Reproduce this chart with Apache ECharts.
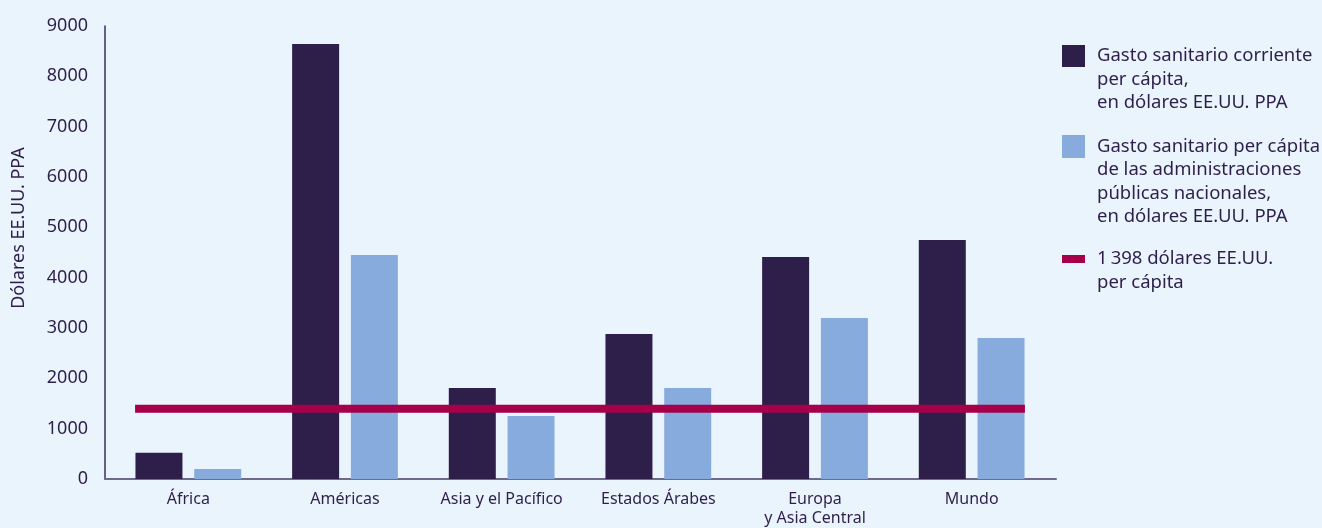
<!DOCTYPE html>
<html>
<head>
<meta charset="utf-8">
<script src="https://cdn.jsdelivr.net/npm/echarts@6/dist/echarts.min.js"></script>
<style>
html,body{margin:0;padding:0;background:#eaf4fd;}
#c{width:1322px;height:528px;}
</style>
</head>
<body>
<div id="c"></div>
<script>
const categories = ['África', 'Américas', 'Asia y el Pacífico', 'Estados Árabes', 'Europa\ny Asia Central', 'Mundo'];
const gastoCorriente = [520, 8640, 1810, 2880, 4410, 4750];
const gastoPublico = [200, 4450, 1250, 1810, 3200, 2800];
const umbral = [1398];
const yMin = 0, yMax = 9000, yStep = 1000;
const seriesNames = [
  'Gasto sanitario corriente\nper cápita,\nen dólares EE.UU. PPA',
  'Gasto sanitario per cápita\nde las administraciones\npúblicas nacionales,\nen dólares EE.UU. PPA',
  '1\u202f398 dólares EE.UU.\nper cápita'
];
const yAxisTitle = 'Dólares EE.UU. PPA';

const TXT = '#2e1f4a';
const DARK = '#2e1f4a';
const LIGHT = '#87abdd';
const RED = '#a6004a';
const FONT = '"Noto Sans", "Open Sans", sans-serif';
const LH = 23.5;

// line extent spans the bar groups (half group width in category units)
const halfGroup = 0.34;
const lineData = [[-halfGroup, umbral[0]], [categories.length - 1 + halfGroup, umbral[0]]];

function legendFor(i, iconCenter, h, w) {
  const n = seriesNames[i].split('\n').length;
  return {
    data: [{name: seriesNames[i], icon: 'rect'}],
    left: 1062,
    top: iconCenter - (2 * n - 1) * LH / 2,
    padding: 0,
    orient: 'vertical',
    itemWidth: w,
    itemHeight: h,
    selectedMode: false,
    formatter: function (name) { return '\n'.repeat(n - 1) + name; },
    textStyle: {
      color: TXT, fontSize: 18.5, fontFamily: FONT, lineHeight: LH,
      padding: [0, 0, 0, 7]
    }
  };
}

const chart = echarts.init(document.getElementById('c'), null, {renderer: 'canvas'});
chart.setOption({
  backgroundColor: '#eaf4fd',
  animation: false,
  textStyle: {fontFamily: FONT},
  grid: [
    {left: 110, right: 272, top: 26, bottom: 49, containLabel: false},
    {left: 105, right: 266, top: 26, bottom: 49, containLabel: false}
  ],
  legend: [
    legendFor(0, 56, 22, 23),
    legendFor(1, 146.5, 23, 23),
    legendFor(2, 259, 8, 23)
  ],
  xAxis: [
    {
      type: 'category', gridIndex: 0, data: categories,
      axisLine: {show: false}, axisTick: {show: false},
      axisLabel: {color: TXT, fontSize: 16, lineHeight: 19, margin: 11, fontFamily: FONT, interval: 0}
    },
    {
      type: 'value', gridIndex: 0, min: -0.5, max: categories.length - 0.5, show: false
    },
    {
      type: 'value', gridIndex: 1, min: 0, max: 1,
      axisLine: {show: true, onZero: false, lineStyle: {color: '#6f6a8c', width: 2}},
      axisTick: {show: false}, axisLabel: {show: false}, splitLine: {show: false}
    }
  ],
  yAxis: [
    {
      type: 'value', gridIndex: 0, min: yMin, max: yMax, interval: yStep, offset: 5,
      axisLine: {show: true, onZero: false, lineStyle: {color: '#3b2f5c', width: 1.5}},
      axisTick: {show: false}, splitLine: {show: false},
      axisLabel: {color: TXT, fontSize: 18, margin: 17, fontFamily: FONT,
        formatter: function (v) { return String(v); }}
    },
    {
      type: 'value', gridIndex: 1, min: 0, max: 1, show: false
    }
  ],
  graphic: [{
    type: 'text', x: 19, y: 228, rotation: Math.PI / 2,
    style: {text: yAxisTitle, fill: TXT, fontSize: 18, fontFamily: FONT, align: 'center', verticalAlign: 'middle'}
  }],
  series: [
    {
      name: seriesNames[0], type: 'bar', xAxisIndex: 0, yAxisIndex: 0,
      data: gastoCorriente, barWidth: 47, barGap: '25%',
      itemStyle: {color: DARK}
    },
    {
      name: seriesNames[1], type: 'bar', xAxisIndex: 0, yAxisIndex: 0,
      data: gastoPublico, barWidth: 47, barGap: '25%',
      itemStyle: {color: LIGHT}
    },
    {
      name: seriesNames[2], type: 'line', xAxisIndex: 1, yAxisIndex: 0,
      data: lineData, symbol: 'none', z: 5,
      lineStyle: {color: RED, width: 8},
      itemStyle: {color: RED}
    }
  ]
});
</script>
</body>
</html>
